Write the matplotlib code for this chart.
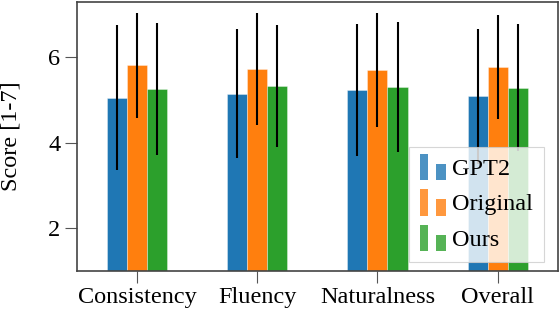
# Third party modules #
import numpy
import matplotlib
matplotlib.use('Agg')
from matplotlib import pyplot
from matplotlib.patches import Rectangle
from matplotlib.legend_handler import HandlerBase

# Data #
categories = ['Consistency', 'Fluency', 'Naturalness', 'Overall']
systems    = ['GPT2', 'Original', 'Ours']
gpt2_mean     = [5.05, 5.15, 5.23, 5.08]
gpt2_std      = [1.70, 1.52, 1.54, 1.57]
original_mean = [5.81, 5.72, 5.70, 5.78]
original_std  = [1.23, 1.31, 1.33, 1.22]
ours_mean     = [5.26, 5.32, 5.31, 5.29]
ours_std      = [1.55, 1.43, 1.52, 1.48]
y_ticks = [2, 4, 6]

# Constants #
colors = ['#1f77b4', '#ff7f0e', '#2ca02c']

################################################################################
class TwoBarHandler(HandlerBase):
    """Legend key made of a tall and a short bar."""
    def create_artists(self, legend, orig_handle, xdescent, ydescent,
                       width, height, fontsize, trans):
        color = orig_handle.get_facecolor()
        tall  = Rectangle((-xdescent, -ydescent - height*0.3), width*0.31, height*1.55,
                          facecolor=color, edgecolor='none', alpha=0.8, transform=trans)
        short = Rectangle((-xdescent + width*0.63, -ydescent - height*0.3), width*0.37, height*0.95,
                          facecolor=color, edgecolor='none', alpha=0.8, transform=trans)
        return [tall, short]

pyplot.rcParams['font.family'] = ['Liberation Serif', 'DejaVu Serif']
pyplot.rcParams['font.size'] = 17.5

fig = pyplot.figure(figsize=(5.6, 3.16), dpi=100)
axes = fig.add_axes([0.1375, 0.1434, 0.8585, 0.8512])

x = numpy.arange(len(categories))
w = 1.0 / 6
means = [gpt2_mean, original_mean, ours_mean]
stds  = [gpt2_std, original_std, ours_std]
handles = []
for i, (m, s) in enumerate(zip(means, stds)):
    bars = axes.bar(x + (i - 1) * w, m, w, bottom=0, color=colors[i],
                    edgecolor=(1, 1, 1, 0.4), linewidth=0.6, zorder=2)
    axes.errorbar(x + (i - 1) * w, m, yerr=s, fmt='none', ecolor='black',
                  elinewidth=1.5, capsize=0, zorder=3)
    handles.append(bars[0])

axes.set_xlim(-0.5, 3.5)
axes.set_ylim(1, 7.3)
axes.set_xticks(x)
axes.set_xticklabels(categories)
axes.set_yticks(y_ticks)
axes.set_ylabel('Score [1-7]', labelpad=19)
axes.tick_params(length=8.5, width=0.8, color='#555555')
for spine in axes.spines.values():
    spine.set_color('#444444')
    spine.set_linewidth(1.2)

leg = axes.legend(handles, systems, loc='lower right', bbox_to_anchor=(0.971, 0.033),
                  borderaxespad=0, handlelength=1.05, handletextpad=0.26,
                  labelspacing=0.55, borderpad=0.45, fancybox=False,
                  framealpha=0.8, edgecolor='#cccccc',
                  handler_map={matplotlib.patches.Rectangle: TwoBarHandler()})
leg.get_frame().set_linewidth(0.8)

fig.savefig('out.png', dpi=100)
pyplot.close(fig)
